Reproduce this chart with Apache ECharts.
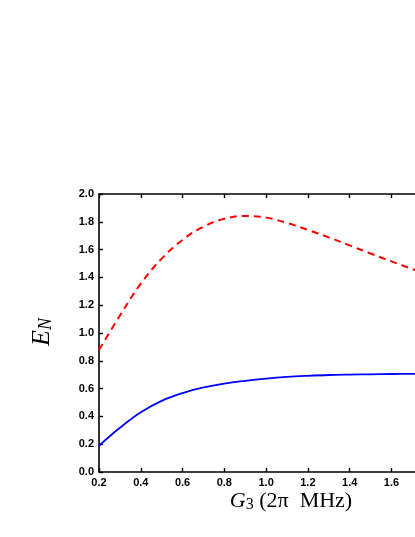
<!DOCTYPE html>
<html>
<head>
<meta charset="utf-8">
<script src="https://cdn.jsdelivr.net/npm/echarts@6/dist/echarts.min.js"></script>
<style>
  html, body { margin: 0; padding: 0; overflow: hidden; background: #fff; }
  #chart { width: 520px; height: 537px; }
</style>
</head>
<body>
<div id="chart"></div>
<script>
// G3 values (2pi MHz)
const gValues = [0.2, 0.3, 0.4, 0.5, 0.6, 0.7, 0.8, 0.9, 1.0, 1.1, 1.2, 1.3, 1.4, 1.5, 1.6, 1.7, 1.8, 1.9, 2.0];
// E_N, red dashed curve
const redValues = [0.878, 1.125, 1.355, 1.535, 1.67, 1.765, 1.822, 1.842, 1.83, 1.792, 1.742, 1.688, 1.63, 1.572, 1.515, 1.46, 1.408, 1.358, 1.31];
// E_N, blue solid curve
const blueValues = [0.189, 0.318, 0.43, 0.512, 0.568, 0.608, 0.636, 0.656, 0.672, 0.684, 0.692, 0.698, 0.701, 0.703, 0.705, 0.706, 0.707, 0.708, 0.709];

const pairs = (ys) => gValues.map((x, i) => [x, ys[i]]);

const tickFont = { fontFamily: 'Liberation Sans', fontWeight: 'bold', fontSize: 11, color: '#000' };
const axisLine = { show: true, onZero: false, lineStyle: { color: '#000', width: 1.6 } };
const axisTick = { show: true, inside: true, length: 4, lineStyle: { color: '#000', width: 1.4 } };

const chart = echarts.init(document.getElementById('chart'));
chart.setOption({
    animation: false,
    grid: { left: 99, top: 194, width: 376, height: 278, containLabel: false },
    xAxis: [{
        type: 'value',
        min: 0.2,
        max: 2.0,
        interval: 0.2,
        position: 'bottom',
        axisLine: axisLine,
        axisTick: axisTick,
        splitLine: { show: false },
        axisLabel: { ...tickFont, margin: 5, formatter: (v) => v.toFixed(1) }
    }, {
        type: 'value',
        min: 0.2,
        max: 2.0,
        interval: 0.2,
        position: 'top',
        axisLine: axisLine,
        axisTick: axisTick,
        splitLine: { show: false },
        axisLabel: { show: false }
    }],
    yAxis: [{
        type: 'value',
        min: 0,
        max: 2.0,
        interval: 0.2,
        position: 'left',
        axisLine: axisLine,
        axisTick: axisTick,
        splitLine: { show: false },
        axisLabel: { ...tickFont, margin: 5, formatter: (v) => v.toFixed(1) }
    }, {
        type: 'value',
        min: 0,
        max: 2.0,
        interval: 0.2,
        position: 'right',
        axisLine: axisLine,
        axisTick: axisTick,
        splitLine: { show: false },
        axisLabel: { show: false }
    }],
    series: [{
        type: 'line',
        data: pairs(redValues),
        smooth: 0.4,
        showSymbol: false,
        lineStyle: { color: '#ff0000', width: 2, type: [7, 5] }
    }, {
        type: 'line',
        data: pairs(blueValues),
        smooth: 0.4,
        showSymbol: false,
        lineStyle: { color: '#0000ff', width: 1.8 }
    }],
    graphic: [{
        type: 'text',
        x: 42,
        y: 332,
        rotation: Math.PI / 2,
        style: {
            text: '{i|E}{s|N}',
            align: 'center',
            verticalAlign: 'middle',
            fill: '#000',
            rich: {
                i: { fontFamily: 'Liberation Serif', fontStyle: 'italic', fontSize: 26, fill: '#000' },
                s: { fontFamily: 'Liberation Serif', fontStyle: 'italic', fontSize: 18, fill: '#000', padding: [8, 0, 0, 0] }
            }
        }
    }, {
        type: 'text',
        x: 291,
        y: 501,
        style: {
            text: '{i|G}{s|3}{n| (2π  MHz)}',
            align: 'center',
            verticalAlign: 'middle',
            fill: '#000',
            rich: {
                i: { fontFamily: 'Liberation Serif', fontStyle: 'italic', fontSize: 22, fill: '#000' },
                s: { fontFamily: 'Liberation Serif', fontSize: 16, fill: '#000', padding: [8, 0, 0, 0] },
                n: { fontFamily: 'Liberation Serif', fontSize: 22, fill: '#000' }
            }
        }
    }]
});
</script>
</body>
</html>
